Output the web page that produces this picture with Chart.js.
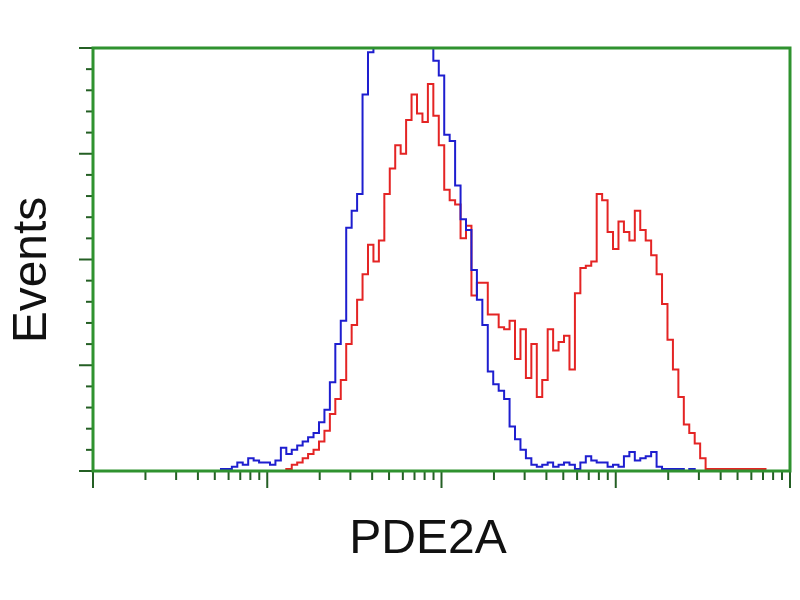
<!DOCTYPE html>
<html>
<head>
<meta charset="utf-8">
<title>PDE2A</title>
<script src="https://cdn.jsdelivr.net/npm/chart.js@4/dist/chart.umd.min.js"></script>
<style>
  html, body { margin: 0; padding: 0; background: #fff; }
  canvas { display: block; }
</style>
</head>
<body>
<canvas id="facs" width="800" height="600"></canvas>
<script>
// ********* Histogram data (log channels, 256 per decade) *********

const channels = [
  160, 168, 176, 184, 192, 200, 208, 216, 224, 232,
  240, 248, 256, 264, 272, 280, 288, 296, 304, 312,
  320, 328, 336, 344, 352, 360, 368, 376, 384, 392,
  400, 408, 416, 424, 432, 440, 448, 456, 464, 472,
  480, 488, 496, 504, 512, 520, 528, 536, 544, 552,
  560, 568, 576, 584, 592, 600, 608, 616, 624, 632,
  640, 648, 656, 664, 672, 680, 688, 696, 704, 712,
  720, 728, 736, 744, 752, 760, 768, 776, 784, 792,
  800, 808, 816, 824, 832, 840, 848, 856, 864, 872,
  880, 888, 896, 904, 912, 920, 928, 936, 944, 952,
  960, 968, 976, 984, 992, 1000, 1008, 1016
];

// blue : isotype control
const controlCounts = [
  0, 0, 0, 0, 1, 1, 2, 4, 3, 6,
  5, 4, 4, 3, 5, 11, 8, 10, 12, 14,
  16, 18, 23, 29, 42, 60, 71, 115, 123, 131,
  178, 198, 215, 230, 240, 250, 255, 250, 255, 245,
  240, 230, 210, 194, 187, 159, 156, 135, 119, 114,
  95, 81, 69, 47, 41, 38, 34, 21, 15, 10,
  6, 3, 2, 3, 4, 2, 3, 4, 3, 1,
  4, 7, 5, 4, 4, 2, 3, 2, 7, 9,
  5, 6, 7, 9, 2, 1, 1, 1, 1, 0,
  1, 0, 0, 0, 0, 0, 0, 0, 0, 0,
  0, 0, 0, 0, 0, 0, 0, 0
];

// red : anti-PDE2A
const pde2aCounts = [
  0, 0, 0, 0, 0, 0, 0, 0, 0, 0,
  0, 0, 0, 0, 0, 0, 1, 3, 4, 6,
  8, 10, 14, 19, 27, 34, 43, 60, 69, 81,
  93, 107, 99, 109, 131, 143, 154, 150, 166, 178,
  169, 165, 183, 168, 154, 133, 128, 126, 110, 116,
  83, 89, 89, 74, 74, 68, 67, 71, 53, 67,
  44, 60, 35, 43, 67, 57, 61, 64, 48, 84,
  96, 97, 99, 131, 128, 113, 105, 118, 113, 109,
  123, 114, 109, 102, 93, 79, 62, 48, 35, 22,
  18, 13, 6, 1, 1, 1, 1, 1, 1, 1,
  1, 1, 1, 1, 0, 0, 0, 0
];

const decadeChannels = [0, 256, 512, 768, 1024];
const minorMultipliers = [2, 3, 4, 5, 6, 7, 8, 9];
const yMajorTicks = [0, 50, 100, 150, 200];
const yMinorTicks = [10, 20, 30, 40, 60, 70, 80, 90, 110, 120, 130, 140, 160, 170, 180, 190];

const xMinorTicks = [];
decadeChannels.slice(0, 4).forEach(d => {
  minorMultipliers.forEach(m => xMinorTicks.push(d + 256 * Math.log10(m)));
});

const toPoints = counts => counts.map((c, i) => ({ x: channels[i], y: c }));


// ********* Frame, tick marks and axis titles *********

const frameAndTicks = {
  id: 'frameAndTicks',
  afterDraw(chart) {
    const { ctx, chartArea: a, scales: { x, y } } = chart;
    ctx.save();

    // tick marks
    ctx.strokeStyle = '#245f24';
    ctx.lineWidth = 2;
    const tick = (x1, y1, x2, y2) => {
      ctx.beginPath(); ctx.moveTo(x1, y1); ctx.lineTo(x2, y2); ctx.stroke();
    };
    decadeChannels.forEach(v => { const px = x.getPixelForValue(v); tick(px, a.bottom, px, a.bottom + 17); });
    xMinorTicks.forEach(v => { const px = x.getPixelForValue(v); tick(px, a.bottom, px, a.bottom + 9); });
    yMajorTicks.forEach(v => { const py = y.getPixelForValue(v); tick(a.left, py, a.left - 14, py); });
    yMinorTicks.forEach(v => { const py = y.getPixelForValue(v); tick(a.left, py, a.left - 7, py); });

    // frame
    ctx.strokeStyle = '#2f922f';
    ctx.lineWidth = 3;
    ctx.strokeRect(a.left, a.top, a.right - a.left, a.bottom - a.top);

    // axis titles
    ctx.fillStyle = '#111';
    ctx.font = '48px "Liberation Sans", Arial, sans-serif';
    ctx.textAlign = 'center';
    ctx.textBaseline = 'alphabetic';
    ctx.fillText('PDE2A', 428, 553);
    ctx.translate(46, 270);
    ctx.rotate(-Math.PI / 2);
    ctx.fillText('Events', 0, 0);
    ctx.restore();
  }
};


// ********* Chart *********

const facs = new Chart(document.getElementById('facs').getContext('2d'), {
  type: 'line',
  data: {
    datasets: [
      {
        label: 'Control',
        data: toPoints(controlCounts),
        borderColor: '#1e1ecf',
        borderWidth: 2,
        pointRadius: 0,
        stepped: 'middle',
        fill: false
      },
      {
        label: 'PDE2A',
        data: toPoints(pde2aCounts),
        borderColor: '#e42424',
        borderWidth: 2,
        pointRadius: 0,
        stepped: 'middle',
        fill: false
      }
    ]
  },
  options: {
    responsive: false,
    animation: false,
    layout: { padding: { left: 93, top: 48, right: 10, bottom: 129 } },
    plugins: {
      legend: { display: false },
      tooltip: { enabled: false },
      title: { display: false }
    },
    scales: {
      x: { type: 'linear', min: 0, max: 1024, display: false },
      y: { type: 'linear', min: 0, max: 200, display: false }
    }
  },
  plugins: [frameAndTicks]
});
</script>
</body>
</html>
